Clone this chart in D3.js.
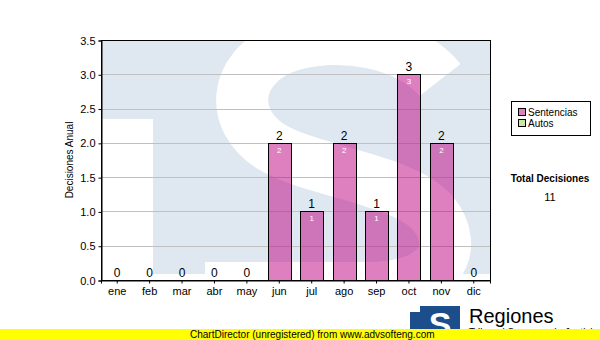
<!DOCTYPE html>
<html lang="es">
<head>
<meta charset="utf-8">
<title>Decisiones Anual</title>
<script src="https://cdn.jsdelivr.net/npm/d3@7"></script>
<style>
  body { margin: 0; background: #fff; }
  svg { display: block; font-family: "Liberation Sans", Arial, sans-serif; }
</style>
</head>
<body>
<script>
// data
var months = ["ene", "feb", "mar", "abr", "may", "jun", "jul", "ago", "sep", "oct", "nov", "dic"];
var sentencias = [0, 0, 0, 0, 0, 2, 1, 2, 1, 3, 2, 0];
var autos = [0, 0, 0, 0, 0, 0, 0, 0, 0, 0, 0, 0];
var yTicks = [0, 0.5, 1, 1.5, 2, 2.5, 3, 3.5];
var seriesNames = ["Sentencias", "Autos"];
var seriesColors = ["#dd80be", "#cce6a0"];

var w = 600, h = 340;
// plot box (note: "top" is a reserved window name, so prefix these)
var pLeft = 101, pRight = 490, pTop = 40, pBottom = 280;

var svg = d3.select("body").append("svg")
    .attr("width", w)
    .attr("height", h);

var x = d3.scaleBand()
    .domain(months)
    .range([pLeft, pRight])
    .paddingInner(0.29)
    .paddingOuter(0.145);

var y = d3.scaleLinear()
    .domain([0, 3.5])
    .range([pBottom, pTop]);

// watermark logo behind the plot
var defs = svg.append("defs");
defs.append("clipPath").attr("id", "plotclip")
  .append("rect")
    .attr("x", pLeft).attr("y", pTop)
    .attr("width", pRight - pLeft).attr("height", pBottom - pTop);

var wm = svg.append("g").attr("clip-path", "url(#plotclip)");
var light = "#dfe8f1";
wm.append("rect").attr("x", pLeft).attr("y", pTop)
    .attr("width", pRight - pLeft).attr("height", 234).attr("fill", light);
// white left of the T stem
wm.append("rect").attr("x", pLeft).attr("y", 119)
    .attr("width", 52).attr("height", 170).attr("fill", "#fff");
// the white S
wm.append("path")
    .attr("d", "M440,80 C410,42 335,28 283,48 C232,70 230,120 270,146 C312,172 400,178 432,212 C462,248 440,288 370,288 L205,288")
    .attr("fill", "none")
    .attr("stroke", "#fff")
    .attr("stroke-width", 52);
// T stem
wm.append("rect").attr("x", 153).attr("y", 119)
    .attr("width", 50).attr("height", 155).attr("fill", light);

// grid
svg.append("g").selectAll("line")
  .data(yTicks.slice(1, -1))
  .enter().append("line")
    .attr("x1", pLeft).attr("x2", pRight)
    .attr("y1", function(d) { return Math.round(y(d)) + 0.5; })
    .attr("y2", function(d) { return Math.round(y(d)) + 0.5; })
    .attr("stroke", "#c0c0c0");

// bars
var bars = svg.append("g");
bars.selectAll("rect")
  .data(sentencias.map(function(v, i) { return { m: months[i], v: v }; })
    .filter(function(d) { return d.v > 0; }))
  .enter().append("rect")
    .attr("x", function(d) { return Math.round(x(d.m)) + 0.5; })
    .attr("y", function(d) { return Math.round(y(d.v)) + 0.5; })
    .attr("width", Math.round(x.bandwidth()))
    .attr("height", function(d) { return Math.round(y(0)) - Math.round(y(d.v)); })
    .attr("fill", "rgba(190,0,128,0.5)")
    .attr("stroke", "#000");

// labels above the bars
svg.append("g").selectAll("text")
  .data(sentencias)
  .enter().append("text")
    .attr("x", function(d, i) { return x(months[i]) + x.bandwidth() / 2; })
    .attr("y", function(d) { return y(d) - 3; })
    .attr("text-anchor", "middle")
    .attr("font-size", 12)
    .attr("fill", "#000")
    .text(function(d) { return d; });

// labels inside the bars
svg.append("g").selectAll("text")
  .data(sentencias.map(function(v, i) { return { m: months[i], v: v }; })
    .filter(function(d) { return d.v > 0; }))
  .enter().append("text")
    .attr("x", function(d) { return x(d.m) + x.bandwidth() / 2; })
    .attr("y", function(d) { return y(d.v) + 10; })
    .attr("text-anchor", "middle")
    .attr("font-size", 8)
    .attr("fill", "#fff")
    .text(function(d) { return d.v; });

// plot frame
svg.append("rect")
    .attr("x", pLeft + 0.5).attr("y", pTop + 0.5)
    .attr("width", pRight - pLeft).attr("height", pBottom - pTop)
    .attr("fill", "none").attr("stroke", "#000");

// axes
var yAxis = d3.axisLeft(y)
    .tickValues(yTicks)
    .tickFormat(d3.format(".1f"))
    .tickSize(3)
    .tickPadding(3);
var gy = svg.append("g")
    .attr("transform", "translate(" + (pLeft + 0.5) + ",0.5)")
    .call(yAxis);

var xAxis = d3.axisBottom(x).tickSize(3).tickPadding(4);
var gx = svg.append("g")
    .attr("transform", "translate(0," + (pBottom + 0.5) + ")")
    .call(xAxis);

[gy, gx].forEach(function(g) {
  g.select(".domain").attr("stroke", "#000");
  g.selectAll(".tick line").attr("stroke", "#000");
  g.selectAll(".tick text")
    .attr("fill", "#000")
    .attr("font-size", 11)
    .attr("font-family", "Liberation Sans, Arial, sans-serif");
});

svg.append("text")
    .attr("transform", "translate(73,160) rotate(-90)")
    .attr("text-anchor", "middle")
    .attr("font-size", 10)
    .text("Decisiones Anual");

// legend
var lg = svg.append("g").attr("transform", "translate(511,101)");
lg.append("rect")
    .attr("x", 0.5).attr("y", 0.5)
    .attr("width", 79).attr("height", 34)
    .attr("fill", "#fff").attr("stroke", "#000");
var items = lg.selectAll("g.item")
  .data(seriesNames)
  .enter().append("g")
    .attr("transform", function(d, i) { return "translate(7," + (7 + i * 11) + ")"; });
items.append("rect")
    .attr("x", 0.5).attr("y", 0.5)
    .attr("width", 7).attr("height", 7)
    .attr("fill", function(d, i) { return seriesColors[i]; })
    .attr("stroke", "#000");
items.append("text")
    .attr("x", 10).attr("y", 8)
    .attr("font-size", 10)
    .text(function(d) { return d; });

// total
svg.append("text")
    .attr("x", 550).attr("y", 182)
    .attr("text-anchor", "middle")
    .attr("font-size", 10).attr("font-weight", "bold")
    .text("Total Decisiones");
svg.append("text")
    .attr("x", 550).attr("y", 201)
    .attr("text-anchor", "middle")
    .attr("font-size", 11)
    .text(d3.sum(sentencias) + d3.sum(autos));

// logo at bottom right
var logo = svg.append("g").attr("transform", "translate(410,306)");
logo.append("rect").attr("x", 0).attr("y", 0)
    .attr("width", 50).attr("height", 30).attr("fill", "#1c4e8c");
logo.append("rect").attr("x", 0).attr("y", 0)
    .attr("width", 10).attr("height", 6).attr("fill", "#fff");
logo.append("text")
    .attr("x", 30).attr("y", 30)
    .attr("text-anchor", "middle")
    .attr("font-size", 34).attr("font-weight", "bold")
    .attr("fill", "#fff")
    .text("S");
svg.append("text")
    .attr("x", 469).attr("y", 323)
    .attr("font-size", 20)
    .text("Regiones");
svg.append("text")
    .attr("x", 469).attr("y", 336)
    .attr("font-size", 10)
    .text("Tribunal Supremo de Justicia");

// unregistered banner
svg.append("rect")
    .attr("x", 0).attr("y", 329)
    .attr("width", w).attr("height", 11)
    .attr("fill", "#ffff00");
svg.append("text")
    .attr("x", 190).attr("y", 338)
    .attr("font-size", 10)
    .text("ChartDirector (unregistered) from www.advsofteng.com");
</script>
</body>
</html>
